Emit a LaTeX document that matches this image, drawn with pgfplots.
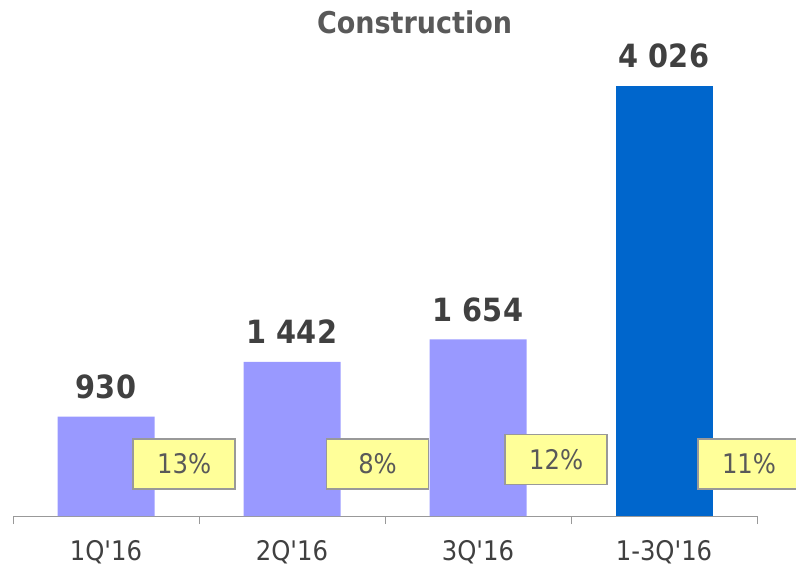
\documentclass[border=0pt]{standalone}
\usepackage{pgfplots}
\pgfplotsset{compat=1.18}
\usepackage{fontspec}
\setmainfont{DejaVu Sans Condensed}
\definecolor{barlight}{HTML}{9999FF}
\definecolor{bardark}{HTML}{0066CC}
\definecolor{boxfill}{HTML}{FFFF99}
\definecolor{boxline}{HTML}{999999}
\definecolor{txt}{HTML}{404040}
\definecolor{ttl}{HTML}{595959}
\begin{document}
\begin{tikzpicture}
\begin{axis}[
  name=ax, at={(0,0)}, anchor=south west,
  scale only axis, width=744pt, height=430pt,
  xmin=-0.5, xmax=3.5, ymin=0, ymax=4026,
  axis x line=bottom, axis y line=none,
  axis line style={boxline, line width=1pt, -},
  xtick={0,1,2,3},
  xticklabels={1Q\textquotesingle16,2Q\textquotesingle16,3Q\textquotesingle16,1-3Q\textquotesingle16},
  major tick length=0pt,
  minor xtick={-0.5,0.5,1.5,2.5,3.5},
  minor tick length=8pt,
  tick align=outside,
  minor tick style={boxline, line width=1pt},
  xticklabel style={font=\fontsize{27}{32}\selectfont, text=txt, anchor=base, yshift=-44pt},
  clip=false,
  title={Construction},
  title style={at={(0.5397,1.1093)}, anchor=base, font=\fontsize{30}{36}\selectfont\bfseries, text=ttl},
]
% quarterly values
\addplot[ybar, bar width=97pt, bar shift=0pt, fill=barlight, draw=none,
  nodes near coords, point meta=explicit symbolic,
  every node near coord/.append style={anchor=base, yshift=18pt, font=\fontsize{32}{36}\selectfont\bfseries, text=txt}]
  coordinates {(0,930)[930] (1,1442)[1 442] (2,1654)[1 654]};
% nine months total
\addplot[ybar, bar width=97pt, bar shift=0pt, fill=bardark, draw=none,
  nodes near coords, point meta=explicit symbolic,
  every node near coord/.append style={anchor=base, yshift=19pt, font=\fontsize{32}{36}\selectfont\bfseries, text=txt}]
  coordinates {(3,4026)[4 026]};
% margin boxes
\addplot[draw=none, mark=none,
  nodes near coords, point meta=explicit symbolic,
  every node near coord/.append style={anchor=center, fill=boxfill, draw=boxline, line width=1.5pt,
    minimum width=102pt, minimum height=50pt, inner sep=0pt,
    font=\fontsize{27}{32}\selectfont, text=ttl}]
  coordinates {(0.42,487)[13\%] (1.46,487)[8\%] (2.42,529)[12\%] (3.457,487)[11\%]};
\end{axis}
\pgfresetboundingbox
\path (-13pt,-50pt) rectangle (783pt,516pt);
\end{tikzpicture}
\end{document}
